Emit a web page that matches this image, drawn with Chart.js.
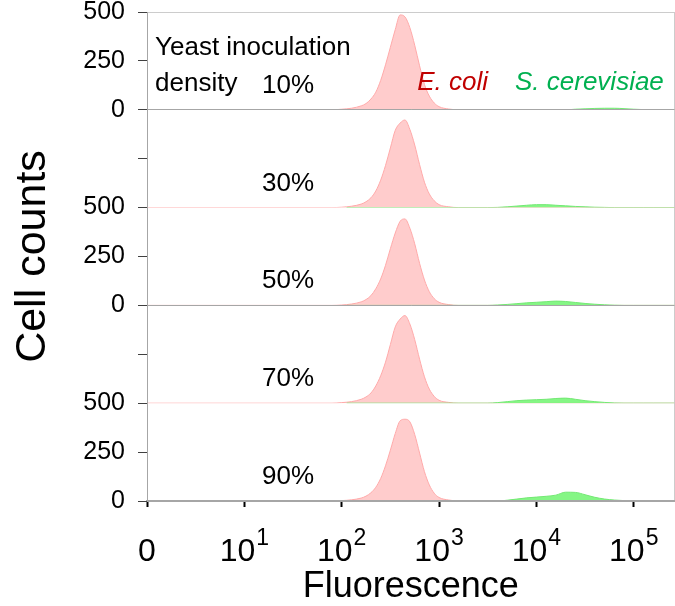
<!DOCTYPE html>
<html>
<head>
<meta charset="utf-8">
<title>Fluorescence histograms</title>
<script src="https://cdn.jsdelivr.net/npm/chart.js@4"></script>
<style>
  html, body { margin: 0; padding: 0; background: #fff; }
  #wrap { width: 675px; height: 606px; position: relative; }
</style>
</head>
<body>
<div id="wrap"><canvas id="histChart"></canvas></div>
<script>
const FONT = '"Liberation Sans", Arial, Helvetica, sans-serif';

// yeast inoculation density of each panel, top to bottom
const densityLabels = ['10%', '30%', '50%', '70%', '90%'];
const panelIds = ['p1', 'p2', 'p3', 'p4', 'p5'];
// only every other panel prints its count labels
const showCountLabels = [true, false, true, false, true];
const countTicks = [0, 250, 500];

// x axis: log10(fluorescence), 0 .. log10(262144)
const decadeTicks = [0, 1, 2, 3, 4, 5];
const decadeBase = ['0', '10', '10', '10', '10', '10'];
const decadeExp = ['', '1', '2', '3', '4', '5'];
const fluorMax = 5.4185;

// E. coli histogram bins (log10 fluorescence) and counts per panel
const ecoliBins = [0, 1.9, 2.0, 2.1, 2.2, 2.25, 2.3, 2.35, 2.4, 2.45, 2.5, 2.55, 2.6, 2.65, 2.7, 2.75, 2.8, 2.85, 2.9, 2.95, 3.0, 3.1, 3.2, 5.4185];
const ecoli10 = [0, 0, 3, 8, 20, 32, 55, 90, 150, 230, 320, 410, 485, 475, 420, 330, 225, 130, 70, 35, 16, 4, 0, 0];
const ecoli30 = [0, 0, 2, 7, 18, 30, 50, 85, 140, 215, 305, 395, 432, 448, 400, 320, 220, 130, 70, 35, 15, 4, 0, 0];
const ecoli50 = [0, 0, 2, 7, 18, 30, 50, 85, 135, 205, 290, 370, 430, 442, 395, 315, 215, 130, 70, 35, 16, 4, 0, 0];
const ecoli70 = [0, 0, 3, 8, 20, 32, 52, 88, 140, 210, 300, 390, 430, 448, 405, 325, 225, 135, 72, 35, 15, 4, 0, 0];
const ecoli90 = [0, 0, 2, 6, 15, 25, 42, 70, 115, 180, 260, 345, 410, 418, 405, 340, 245, 150, 82, 40, 18, 5, 0, 0];

// S. cerevisiae histogram bins and counts per panel
const yeastBins = [2.05, 3.5, 3.6, 3.7, 3.8, 3.9, 4.0, 4.1, 4.2, 4.3, 4.4, 4.5, 4.6, 4.7, 4.8, 4.9, 5.0, 5.1, 5.2, 5.4185];
const yeast10 = [0, 0, 0, 0, 0, 0, 0, 0, 0, 0, 3, 5, 7, 8, 8, 6, 3, 1, 0, 0];
const yeast30 = [0, 0, 1, 4, 8, 12, 15, 15, 12, 9, 6, 4, 2, 1, 0, 0, 0, 0, 0, 0];
const yeast50 = [0, 0, 2, 5, 9, 13, 16, 19, 22, 20, 15, 10, 6, 3, 1, 0, 0, 0, 0, 0];
const yeast70 = [0, 0, 3, 8, 13, 16, 18, 20, 24, 26, 20, 13, 8, 4, 1, 0, 0, 0, 0, 0];
const yeast90 = [0, 0, 0, 4, 10, 16, 20, 24, 30, 45, 44, 32, 19, 10, 5, 2, 0, 0, 0, 0];

const ecoliCounts = [ecoli10, ecoli30, ecoli50, ecoli70, ecoli90];
const yeastCounts = [yeast10, yeast30, yeast50, yeast70, yeast90];

function toPoints(bins, counts) {
  return bins.map((b, i) => ({ x: b, y: counts[i] }));
}

const datasets = [];
panelIds.forEach((id, i) => {
  datasets.push({
    label: 'S. cerevisiae ' + densityLabels[i],
    data: toPoints(yeastBins, yeastCounts[i]),
    yAxisID: id,
    order: 0,
    fill: 'origin',
    backgroundColor: 'rgba(120, 245, 120, 0.9)',
    borderColor: '#74e874',
    borderWidth: 1,
    pointRadius: 0,
    cubicInterpolationMode: 'monotone'
  });
  datasets.push({
    label: 'E. coli ' + densityLabels[i],
    data: toPoints(ecoliBins, ecoliCounts[i]),
    yAxisID: id,
    order: 1,
    fill: 'origin',
    backgroundColor: '#ffcccc',
    borderColor: '#ffaaaa',
    borderWidth: 1,
    pointRadius: 0,
    cubicInterpolationMode: 'monotone'
  });
});

function panelAxis(i) {
  const labelled = showCountLabels[i];
  const axis = {
    type: 'linear',
    position: 'left',
    stack: 'panels',
    stackWeight: 1,
    min: countTicks[0],
    max: countTicks[countTicks.length - 1],
    afterFit: s => { s.width = 147; s.paddingTop = 0; s.paddingBottom = 0; },
    border: { color: '#a6a6a6', width: 1, z: 1 },
    grid: {
      z: 1,
      drawOnChartArea: true,
      color: c => (labelled && c.tick && c.tick.value === 0) ? '#a6a6a6' : 'rgba(0,0,0,0)',
      tickColor: '#404040',
      tickLength: 9,
      lineWidth: 1
    },
    ticks: {
      stepSize: countTicks[1] - countTicks[0],
      autoSkip: false,
      padding: 13,
      color: '#000',
      font: { family: FONT, size: 25 },
      callback: v => labelled ? String(v) : ''
    }
  };
  if (i === 2) {
    axis.title = {
      display: true,
      text: 'Cell counts',
      color: '#000',
      font: { family: FONT, size: 43 },
      padding: { top: 7, bottom: 0 }
    };
  }
  return axis;
}

const scales = {
  x: {
    type: 'linear',
    position: 'bottom',
    min: 0,
    max: fluorMax,
    afterFit: s => { s.height = 105; },
    border: { color: '#a6a6a6', width: 2, z: 1 },
    grid: { z: 1, drawOnChartArea: false, tickColor: '#000', tickLength: 6, tickWidth: 2 },
    ticks: { display: false, stepSize: 1, includeBounds: false },
    afterBuildTicks: s => { s.ticks = decadeTicks.map(v => ({ value: v })); },
    title: {
      display: true,
      text: 'Fluorescence',
      color: '#000',
      font: { family: FONT, size: 36, lineHeight: 1.05 },
      padding: { top: 0, bottom: 0 }
    }
  },
  xTop: {
    type: 'linear',
    position: 'top',
    min: 0,
    max: 1,
    afterFit: s => { s.height = 0; },
    border: { color: '#cccccc', width: 1 },
    grid: { display: false },
    ticks: { display: false }
  },
  yRight: {
    type: 'linear',
    position: 'right',
    min: 0,
    max: 1,
    afterFit: s => { s.width = 0; },
    border: { color: '#cccccc', width: 1 },
    grid: { display: false },
    ticks: { display: false }
  }
};
// stacked axes are laid out bottom-up, so add the lowest panel first
for (let i = panelIds.length - 1; i >= 0; i--) {
  scales[panelIds[i]] = panelAxis(i);
}

// "10" with a raised exponent under each decade tick
const decadeLabelsPlugin = {
  id: 'decadeLabels',
  afterDraw(chart) {
    const sc = chart.scales.x;
    const ctx = chart.ctx;
    const y = sc.top + 60;
    ctx.save();
    ctx.fillStyle = '#000';
    ctx.textBaseline = 'alphabetic';
    ctx.textAlign = 'left';
    decadeTicks.forEach((v, i) => {
      const px = sc.getPixelForValue(v);
      ctx.font = '32px ' + FONT;
      const w1 = ctx.measureText(decadeBase[i]).width;
      ctx.font = '23px ' + FONT;
      const w2 = decadeExp[i] ? ctx.measureText(decadeExp[i]).width + 1 : 0;
      const x0 = px - (w1 + w2) / 2;
      ctx.font = '32px ' + FONT;
      ctx.fillText(decadeBase[i], x0, y);
      if (decadeExp[i]) {
        ctx.font = '23px ' + FONT;
        ctx.fillText(decadeExp[i], x0 + w1 + 1, y - 16);
      }
    });
    ctx.restore();
  }
};

// panel captions and species key
const panelNotesPlugin = {
  id: 'panelNotes',
  afterDraw(chart) {
    const ctx = chart.ctx;
    const left = chart.chartArea.left;
    const x = chart.scales.x;
    const top = chart.scales.p1;
    ctx.save();
    ctx.textBaseline = 'alphabetic';
    ctx.textAlign = 'left';
    ctx.fillStyle = '#000';
    ctx.font = '26px ' + FONT;
    ctx.fillText('Yeast inoculation', left + 8, top.top + 43);
    ctx.fillText('density', left + 8, top.bottom - 19);
    panelIds.forEach((id, i) => {
      ctx.fillText(densityLabels[i], left + 115, chart.scales[id].bottom - 17);
    });
    ctx.font = 'italic 26px ' + FONT;
    ctx.fillStyle = '#c00000';
    ctx.fillText('E. coli', x.getPixelForValue(2.775), top.bottom - 20);
    ctx.fillStyle = '#00b050';
    ctx.fillText('S. cerevisiae', x.getPixelForValue(3.78), top.bottom - 20);
    ctx.restore();
  }
};

new Chart(document.getElementById('histChart'), {
  type: 'line',
  data: { datasets: datasets },
  options: {
    responsive: true,
    maintainAspectRatio: false,
    animation: false,
    layout: { padding: { top: 12, right: 0.5, left: 0, bottom: 0 } },
    plugins: {
      legend: { display: false },
      tooltip: { enabled: false }
    },
    scales: scales
  },
  plugins: [decadeLabelsPlugin, panelNotesPlugin]
});
</script>
</body>
</html>
